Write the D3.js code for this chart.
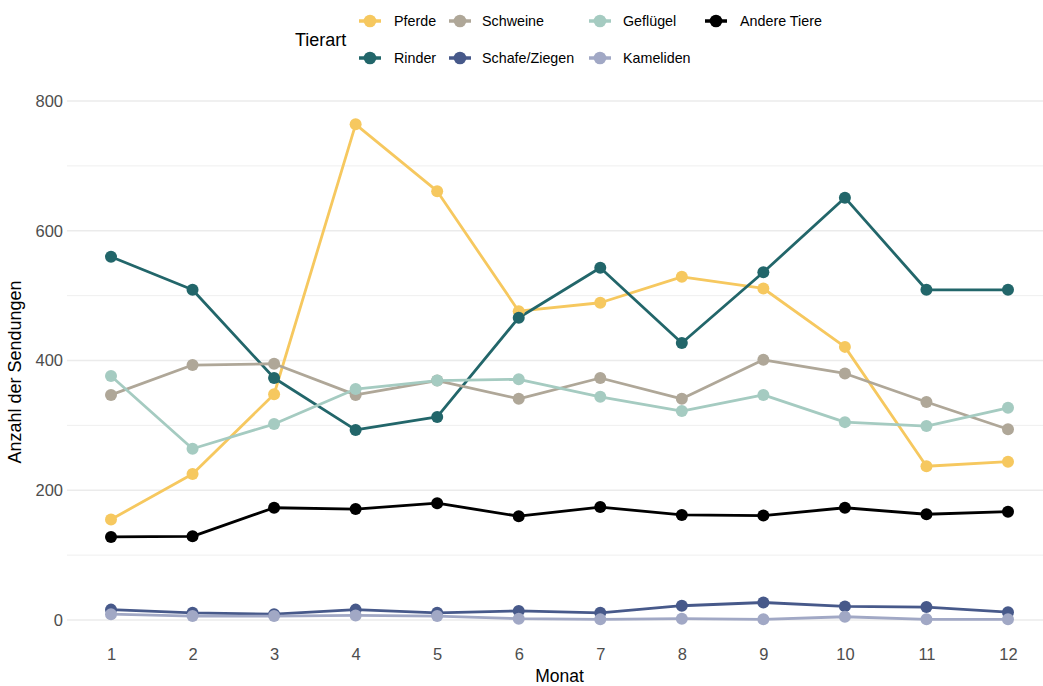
<!DOCTYPE html>
<html><head><meta charset="utf-8">
<script src="https://cdn.jsdelivr.net/npm/d3@7"></script>
<style>body{margin:0;background:#fff;font-family:"Liberation Sans",Arial,sans-serif;}</style>
</head><body><svg id="c" width="1043" height="686"></svg>
<script>
const months = [1,2,3,4,5,6,7,8,9,10,11,12];
const seriesNames = ["Pferde","Rinder","Schweine","Schafe/Ziegen","Geflügel","Kameliden","Andere Tiere"];
const pferde   = [155,225,348,764,661,476,489,529,511,421,237,244];
const rinder   = [560,509,373,293,313,466,543,427,536,651,509,509];
const schweine = [347,393,395,347,369,341,373,341,401,380,336,294];
const schafe   = [16,11,9,16,11,14,11,22,27,21,20,12];
const gefluegel= [376,264,302,356,369,371,344,322,347,305,299,327];
const kameliden= [9,6,6,7,6,2,1,2,1,5,1,1];
const andere   = [128,129,173,171,180,160,174,162,161,173,163,167];
const colors = ["#F6C85F","#22666A","#AFA798","#47598A","#A5CBC1","#A1A8C5","#000000"];
const yTicks = [0,200,400,600,800];
const yMinor = [100,300,500,700];
const valuesList = [pferde,rinder,schweine,schafe,gefluegel,kameliden,andere];

const FONT = "Liberation Sans, Arial, sans-serif";
const svg = d3.select("#c");
const x = d3.scaleLinear().domain([1,12]).range([111,1008]);
const y = d3.scaleLinear().domain([0,800]).range([620,101]);
const gridX0 = 67, gridX1 = 1043;

// grid
svg.append("g").selectAll("line").data(yMinor).join("line")
  .attr("x1",gridX0).attr("x2",gridX1).attr("y1",d=>y(d)).attr("y2",d=>y(d))
  .attr("stroke","#EBEBEB").attr("stroke-width",0.8);
svg.append("g").selectAll("line").data(yTicks).join("line")
  .attr("x1",gridX0).attr("x2",gridX1).attr("y1",d=>y(d)).attr("y2",d=>y(d))
  .attr("stroke","#EBEBEB").attr("stroke-width",1.3);

// axes
const yAxis = svg.append("g").attr("transform",`translate(${gridX0},0)`)
  .call(d3.axisLeft(y).tickValues(yTicks).tickSize(0).tickPadding(4));
yAxis.select(".domain").remove();
yAxis.selectAll("text").attr("fill","#4D4D4D").style("font-size","16.5px").style("font-family",FONT);

const xAxis = svg.append("g").attr("transform",`translate(0,644)`)
  .call(d3.axisBottom(x).tickValues(months).tickFormat(d3.format("d")).tickSize(0).tickPadding(4));
xAxis.select(".domain").remove();
xAxis.selectAll("text").attr("fill","#4D4D4D").style("font-size","16.5px").style("font-family",FONT);

svg.append("text").attr("x",559.5).attr("y",682).attr("text-anchor","middle")
  .style("font-size","17.5px").style("font-family",FONT).attr("fill","#000").text("Monat");
svg.append("text").attr("transform","translate(21,372) rotate(-90)").attr("text-anchor","middle")
  .style("font-size","18px").style("font-family",FONT).attr("fill","#000").text("Anzahl der Sendungen");

// data
const data = seriesNames.map((n,i)=>({name:n,color:colors[i],vals:valuesList[i].map((v,j)=>({m:months[j],v}))}));
const line = d3.line().x(d=>x(d.m)).y(d=>y(d.v));
svg.append("g").selectAll("path").data(data).join("path")
  .attr("d",d=>line(d.vals)).attr("fill","none").attr("stroke",d=>d.color).attr("stroke-width",2.8)
  .attr("stroke-linejoin","round");
const pg = svg.append("g");
data.forEach(s=>{
  pg.append("g").selectAll("circle").data(s.vals).join("circle")
    .attr("cx",d=>x(d.m)).attr("cy",d=>y(d.v)).attr("r",6).attr("fill",s.color);
});

// legend
const leg = svg.append("g");
leg.append("text").attr("x",295).attr("y",46).style("font-size","18px").style("font-family",FONT).attr("fill","#000").text("Tierart");
const colKey = [370,460,600,716];
const colLab = [394,482,623,740];
const rowY = [21,58];
seriesNames.forEach((n,i)=>{
  const col = Math.floor(i/2), row = i%2;
  const cx = colKey[col], cy = rowY[row];
  leg.append("line").attr("x1",cx-11).attr("x2",cx+11).attr("y1",cy).attr("y2",cy)
    .attr("stroke",colors[i]).attr("stroke-width",3.5);
  leg.append("circle").attr("cx",cx).attr("cy",cy).attr("r",6.3).attr("fill",colors[i]);
  leg.append("text").attr("x",colLab[col]).attr("y",cy+5).style("font-size","14.3px").style("font-family",FONT).attr("fill","#000").text(n);
});
</script></body></html>
